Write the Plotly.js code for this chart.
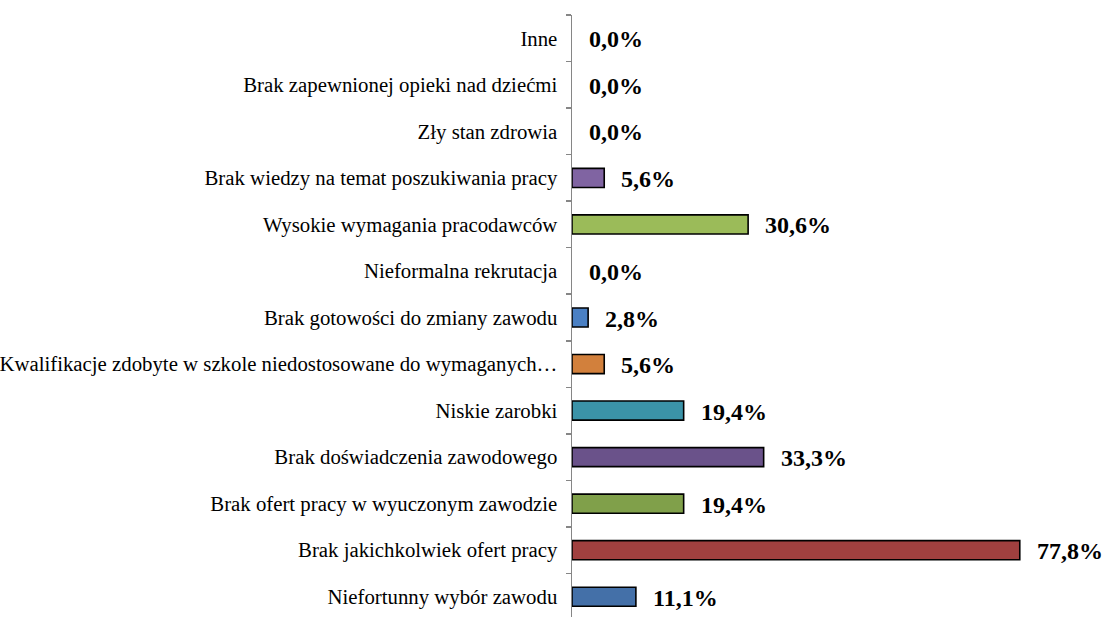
<!DOCTYPE html>
<html>
<head>
<meta charset="utf-8">
<script src="https://cdn.plot.ly/plotly-3.0.1.min.js"></script>
<style>
html,body{margin:0;padding:0;background:#fff;overflow:hidden;}
#chart{width:1104px;height:620px;}
</style>
</head>
<body>
<div id="chart"></div>
<script>
// Categories listed bottom to top
var categories = [
  "Niefortunny wybór zawodu",
  "Brak jakichkolwiek ofert pracy",
  "Brak ofert pracy w wyuczonym zawodzie",
  "Brak doświadczenia zawodowego",
  "Niskie zarobki",
  "Kwalifikacje zdobyte w szkole niedostosowane do wymaganych…",
  "Brak gotowości do zmiany zawodu",
  "Nieformalna rekrutacja",
  "Wysokie wymagania pracodawców",
  "Brak wiedzy na temat poszukiwania pracy",
  "Zły stan zdrowia",
  "Brak zapewnionej opieki nad dziećmi",
  "Inne"
];
var values = [11.1, 77.8, 19.4, 33.3, 19.4, 5.6, 2.8, 0.0, 30.6, 5.6, 0.0, 0.0, 0.0];

var barColors = ["#4470A8", "#A0403F", "#80A04A", "#6A528A", "#3B93A8", "#D2803C",
                 "#4A80C4", "#C0504D", "#9BBB59", "#8064A2", "#4F81BD", "#C0504D", "#9BBB59"];

var SERIF = "Liberation Serif";

function fmt(v){ return v.toFixed(1).replace('.', ',') + '%'; }

var trace = {
  type: 'bar',
  orientation: 'h',
  y: categories,
  x: values,
  marker: {color: barColors, line: {color: '#000000', width: values.map(function(v){ return v > 0 ? 1.6 : 0; })}},
  width: 0.41,
  hoverinfo: 'none'
};

var annotations = values.map(function(v, i){
  return {
    x: v, y: categories[i], xref: 'x', yref: 'y',
    text: '<b>' + fmt(v) + '</b>', showarrow: false,
    xanchor: 'left', yanchor: 'middle', xshift: 15, yshift: -1,
    font: {family: SERIF, size: 24, color: '#000'}
  };
});

var layout = {
  width: 1104, height: 620,
  margin: {l: 572, r: 14, t: 15, b: 0, pad: 0},
  paper_bgcolor: '#fff', plot_bgcolor: '#fff',
  showlegend: false,
  font: {family: SERIF, size: 20.8, color: '#000'},
  xaxis: {range: [0, 90], visible: false, fixedrange: true},
  yaxis: {
    type: 'category',
    automargin: false,
    showline: true, linecolor: '#868686', linewidth: 1.5,
    ticks: 'outside', tickson: 'boundaries', ticklen: 5, tickcolor: '#868686', tickwidth: 1.5,
    ticklabelstandoff: 9,
    showgrid: false, zeroline: false,
    tickfont: {family: SERIF, size: 20.8, color: '#000'},
    range: [-0.5, 12.5]
  },
  annotations: annotations
};

Plotly.newPlot('chart', [trace], layout, {staticPlot: true, displayModeBar: false});
</script>
</body>
</html>
